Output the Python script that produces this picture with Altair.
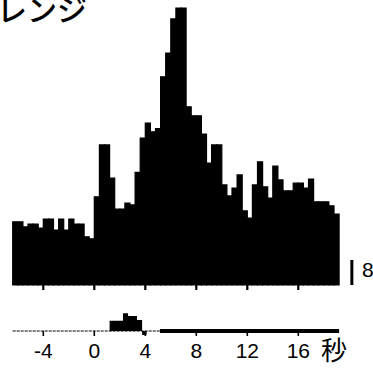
import altair as alt
import pandas as pd

# Peri-stimulus histogram: 0.4 s bins starting at -6.4 s
bin_width = 0.4
first_bin = -6.4
hist_counts = [20.2, 20.2, 18.6, 19.5, 19.5, 18.2, 21.1, 21.1, 17.6, 21.1,
               17.6, 21.1, 19.5, 19.5, 15.4, 14.8, 28.2, 44.8, 44.8, 34.2,
               24.3, 24.3, 26.2, 25.6, 36.0, 47.0, 51.8, 49.0, 50.0, 66.6,
               74.2, 85.1, 88.6, 88.6, 57.0, 54.1, 54.1, 48.3, 39.0, 44.8,
               44.8, 32.0, 28.5, 31.0, 35.2, 23.7, 21.4, 32.0, 39.4, 31.4,
               27.8, 38.0, 33.6, 30.1, 30.1, 32.6, 32.6, 31.0, 33.9, 26.6,
               26.6, 26.6, 25.3, 22.7]

# Stimulus trace (arbitrary units)
stim_t = [1.2, 2.25, 2.65, 3.35, 3.75, 4.1]
stim_level = [10.3, 17.7, 15.0, 11.0, -4.0, 0.0]
stim_thin = [-6.4, 5.15]
stim_sustained = [5.15, 19.2]

tick_values = [-4, 0, 4, 8, 12, 16]
tick_labels = ["-4", "0", "4", "8", "12", "16"]
unit_label = "秒"
scale_bar_value = 8
scale_bar_t = 20.2
title_text = "オレンジ"

hist_df = pd.DataFrame({
    "t0": [first_bin + bin_width * i for i in range(len(hist_counts))],
    "count": hist_counts,
})
hist_df["t1"] = hist_df["t0"] + bin_width

stim_df = pd.DataFrame({"t": stim_t, "level": stim_level})
thin_df = pd.DataFrame({"t0": [stim_thin[0]], "t1": [stim_thin[1]], "level": [0]})
sus_df = pd.DataFrame({"t0": [stim_sustained[0]], "t1": [stim_sustained[1]], "level": [0]})
tick_df = pd.DataFrame({"t": tick_values, "label": tick_labels})
bar_df = pd.DataFrame({"t": [scale_bar_t], "v0": [0], "v1": [scale_bar_value],
                       "label": [str(scale_bar_value)]})

xs = alt.Scale(domain=[-6.4, 19.2], range=[12.7, 339.1])
ys_hist = alt.Scale(domain=[0, 88.6], range=[285, 8])
ys_stim = alt.Scale(domain=[0, 20], range=[331, 311])

hist = alt.Chart(hist_df).mark_rect(color="black", stroke="black", strokeWidth=1.2).encode(
    x=alt.X("t0:Q", scale=xs, axis=None),
    x2="t1:Q",
    y=alt.Y("count:Q", scale=ys_hist, axis=None),
    y2=alt.datum(0),
)

scalebar = alt.Chart(bar_df).mark_rule(color="black", strokeWidth=3).encode(
    x=alt.X("t:Q", scale=xs, axis=None),
    y=alt.Y("v0:Q", scale=ys_hist, axis=None),
    y2="v1:Q",
)
scalebar_text = alt.Chart(bar_df).mark_text(
    align="left", baseline="alphabetic", fontSize=21,
    font="Liberation Sans", color="black"
).encode(x=alt.value(362), y=alt.value(277), text="label:N")

ticks_top = alt.Chart(tick_df).mark_rule(color="black", strokeWidth=2.2).encode(
    x=alt.X("t:Q", scale=xs, axis=None), y=alt.value(285), y2=alt.value(290)
)
ticks_bot = alt.Chart(tick_df).mark_rule(color="black", strokeWidth=1.6).encode(
    x=alt.X("t:Q", scale=xs, axis=None), y=alt.value(331), y2=alt.value(336)
)

stim_area = alt.Chart(stim_df).mark_area(color="black", interpolate="step-after").encode(
    x=alt.X("t:Q", scale=xs, axis=None),
    y=alt.Y("level:Q", scale=ys_stim, axis=None),
    y2=alt.datum(0),
)
thin_line = alt.Chart(thin_df).mark_rule(color="black", strokeWidth=1.2, strokeDash=[3, 1]).encode(
    x=alt.X("t0:Q", scale=xs, axis=None), x2="t1:Q",
    y=alt.Y("level:Q", scale=ys_stim, axis=None),
)
sus_line = alt.Chart(sus_df).mark_rule(color="black", strokeWidth=3.8).encode(
    x=alt.X("t0:Q", scale=xs, axis=None), x2="t1:Q",
    y=alt.Y("level:Q", scale=ys_stim, axis=None),
)

labels = alt.Chart(tick_df).mark_text(
    align="center", baseline="alphabetic", fontSize=21,
    font="Liberation Sans", color="black"
).encode(x=alt.X("t:Q", scale=xs, axis=None), y=alt.value(358), text="label:N")

unit = alt.Chart(pd.DataFrame({"u": [unit_label]})).mark_text(
    align="center", baseline="alphabetic", fontSize=26,
    font="Noto Sans CJK JP", color="black"
).encode(x=alt.value(334), y=alt.value(360), text="u:N")

title = alt.Chart(pd.DataFrame({"s": [title_text]})).mark_text(
    align="left", baseline="alphabetic", fontSize=30, fontWeight=500,
    font="Noto Sans CJK JP", color="black"
).encode(x=alt.value(-33), y=alt.value(21), text="s:N")

chart = alt.layer(
    hist, scalebar, scalebar_text, ticks_top, ticks_bot, stim_area, thin_line,
    sus_line, labels, unit, title
).resolve_scale(y="independent").properties(
    width=373, height=368,
    autosize=alt.AutoSizeParams(type="none"),
    padding=0,
).configure_view(stroke=None)

chart.save("out.html", embed_options={"renderer": "svg", "actions": False})
